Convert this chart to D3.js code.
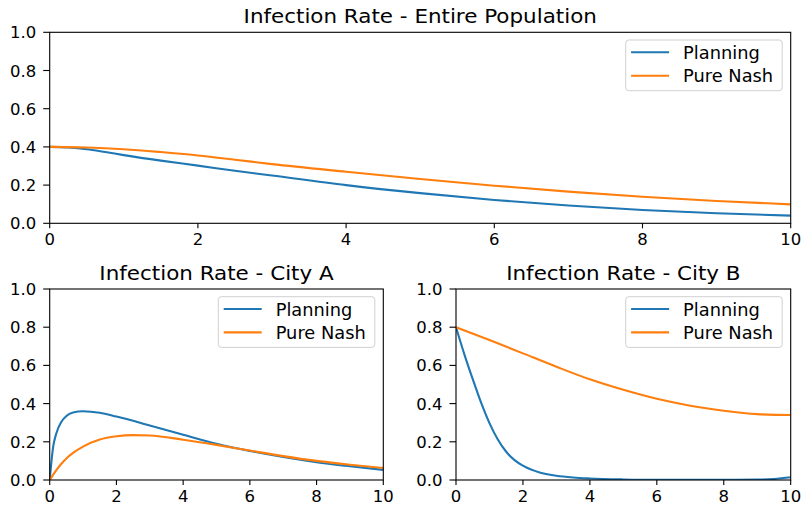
<!DOCTYPE html>
<html>
<head>
<meta charset="utf-8">
<script src="https://cdn.jsdelivr.net/npm/d3@7"></script>
<style>
  html, body { margin: 0; padding: 0; background: #fff; }
  svg { display: block; }
  text { font-family: "DejaVu Sans", sans-serif; fill: #000; }
</style>
</head>
<body>
<svg id="fig" width="805" height="506"></svg>
<script>
// ---- data ----
const seriesNames = ["Planning", "Pure Nash"];
const colors = ["#1f77b4", "#ff7f0e"];
const xTicks = [0, 2, 4, 6, 8, 10];
const yTicks = [0, 0.2, 0.4, 0.6, 0.8, 1.0];

// Entire population
const tAll = [0, 0.25, 0.5, 0.75, 1, 1.5, 2, 2.5, 3, 4, 5, 6, 7, 8, 9, 10];
const allPlanning = [0.40, 0.397, 0.388, 0.373, 0.357, 0.328, 0.302, 0.275, 0.250, 0.200, 0.158, 0.122, 0.093, 0.070, 0.053, 0.040];
const allNash     = [0.40, 0.399, 0.397, 0.393, 0.388, 0.373, 0.355, 0.333, 0.310, 0.270, 0.232, 0.197, 0.166, 0.139, 0.117, 0.099];

// City A
const tA = [0, 0.1, 0.2, 0.35, 0.5, 0.7, 1, 1.5, 2, 2.5, 3, 4, 5, 6, 7, 8, 9, 10];
const aPlanning = [0, 0.17, 0.245, 0.305, 0.335, 0.353, 0.360, 0.352, 0.332, 0.310, 0.285, 0.237, 0.190, 0.152, 0.120, 0.093, 0.072, 0.053];
const aNash     = [0, 0.027, 0.052, 0.085, 0.113, 0.142, 0.175, 0.212, 0.229, 0.235, 0.233, 0.211, 0.184, 0.154, 0.125, 0.100, 0.080, 0.063];

// City B
const tBPlan = [0, 0.25, 0.5, 0.75, 1, 1.25, 1.5, 1.75, 2, 2.5, 3, 3.5, 4, 5, 6, 7, 8, 9, 9.5, 10];
const bPlanning = [0.8, 0.658, 0.528, 0.405, 0.298, 0.212, 0.148, 0.104, 0.075, 0.039, 0.022, 0.013, 0.008, 0.003, 0.001, 0.001, 0.001, 0.002, 0.005, 0.014];
const tBNash = [0, 1, 2, 3, 4, 5, 6, 7, 8, 9, 10];
const bNash  = [0.8, 0.733, 0.663, 0.593, 0.527, 0.472, 0.425, 0.389, 0.363, 0.345, 0.340];

const panels = [
  { title: "Infection Rate - Entire Population", box: [49.7, 790.7, 32.3, 223.3],
    series: [[tAll, allPlanning], [tAll, allNash]] },
  { title: "Infection Rate - City A", box: [49.7, 383.3, 289, 480],
    series: [[tA, aPlanning], [tA, aNash]] },
  { title: "Infection Rate - City B", box: [456, 790.7, 289, 480],
    series: [[tBPlan, bPlanning], [tBNash, bNash]] }
];

// ---- drawing ----
const svg = d3.select("#fig");
const SX = 1.1; // horizontal text stretch

function label(g, x, y, str, size, anchor, sx) {
  return g.append("text")
    .attr("transform", `translate(${x},${y}) scale(${sx || SX},1)`)
    .attr("text-anchor", anchor)
    .style("font-size", size + "px")
    .text(str);
}

panels.forEach((p, pi) => {
  const [x0, x1, y0, y1] = p.box;
  const x = d3.scaleLinear().domain([0, 10]).range([x0, x1]);
  const y = d3.scaleLinear().domain([0, 1]).range([y1, y0]);
  const g = svg.append("g");

  // curves
  const line = d3.line().x(d => x(d[0])).y(d => y(d[1])).curve(d3.curveMonotoneX);
  g.append("clipPath").attr("id", "clip" + pi)
    .append("rect").attr("x", x0).attr("y", y0).attr("width", x1 - x0).attr("height", y1 - y0);
  p.series.forEach(([ts, vs], i) => {
    g.append("path")
      .attr("clip-path", `url(#clip${pi})`)
      .attr("d", line(ts.map((t, k) => [t, vs[k]])))
      .attr("fill", "none")
      .attr("stroke", colors[i])
      .attr("stroke-width", 2.1);
  });

  // frame
  g.append("rect").attr("x", x0).attr("y", y0).attr("width", x1 - x0).attr("height", y1 - y0)
    .attr("fill", "none").attr("stroke", "#000").attr("stroke-width", 1.1);

  // ticks
  yTicks.forEach(v => {
    g.append("line").attr("x1", x0 - 6.5).attr("x2", x0).attr("y1", y(v)).attr("y2", y(v))
      .attr("stroke", "#000").attr("stroke-width", 1.1);
    label(g, x0 - 13.5, y(v) + 6, d3.format(".1f")(v), 15, "end");
  });
  xTicks.forEach(v => {
    g.append("line").attr("x1", x(v)).attr("x2", x(v)).attr("y1", y1).attr("y2", y1 + 5)
      .attr("stroke", "#000").attr("stroke-width", 1.1);
    label(g, x(v), y1 + 22, String(v), 15, "middle");
  });

  // title
  label(g, (x0 + x1) / 2, y0 - 9.5, p.title, 19.5, "middle");

  // legend
  const lw = 156.5, lh = 50.7;
  const lx = x1 - 8.5 - lw, ly = y0 + 7.7;
  g.append("rect").attr("x", lx).attr("y", ly).attr("width", lw).attr("height", lh)
    .attr("rx", 3).attr("fill", "#fff").attr("fill-opacity", 0.8)
    .attr("stroke", "#d0d0d0").attr("stroke-width", 1);
  seriesNames.forEach((name, i) => {
    const ry = ly + 12.3 + i * 23.4;
    g.append("line").attr("x1", lx + 5.4).attr("x2", lx + 43.4).attr("y1", ry).attr("y2", ry)
      .attr("stroke", colors[i]).attr("stroke-width", 2.1);
    label(g, lx + 57.4, ry + 6.5, name, 16.8, "start", 1.06);
  });
});
</script>
</body>
</html>
